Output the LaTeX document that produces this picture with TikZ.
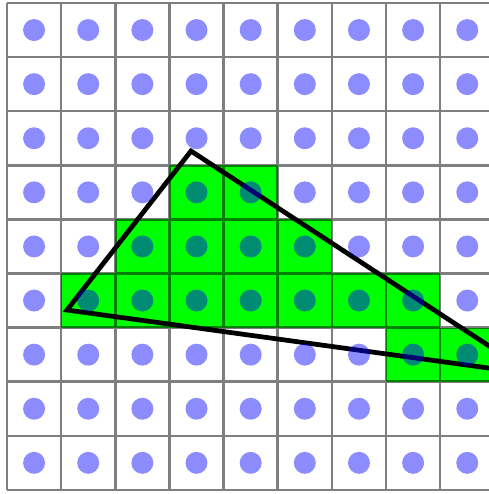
\documentclass[tikz,border=0pt]{standalone}
\usepackage{tikz}
\usepackage{xcolor}
\definecolor{pixgreen}{RGB}{0,255,0}
\definecolor{sampleblue}{RGB}{0,0,255}

\begin{document}
\begin{tikzpicture}[x=1.083cm, y=-1.082cm,
  gridline/.style={draw=black, draw opacity=0.5, line width=0.05cm},
  covered/.style={fill=pixgreen},
  sample/.style={fill=sampleblue, fill opacity=0.45},
  edge/.style={draw=black, line width=0.095cm, line join=miter}]
\useasboundingbox (-0.1293,-0.0555) rectangle (8.901,9.076);
\clip (-0.1293,-0.0555) rectangle (8.901,9.076);
\fill[white] (-0.1293,-0.0555) rectangle (8.901,9.076);
% covered pixels
\foreach \i/\j in {3/3,4/3,2/4,3/4,4/4,5/4,1/5,2/5,3/5,4/5,5/5,6/5,7/5,7/6,8/6}
  \fill[covered] (\i,\j) rectangle ++(1,1);
\draw[gridline] \foreach \k in {0,...,9} {(\k,0) -- (\k,9) (0,\k) -- (9,\k)};
% triangle
\coordinate (apexT) at (3.398,2.736);
\coordinate (apexL) at (1.108,5.675);
\coordinate (apexR) at (9.695,6.858);
\draw[edge] (apexT) -- (apexL) -- (apexR) -- cycle;
% sample points
\foreach \i in {0,...,8}
  \foreach \j in {0,...,8}
    \fill[sample] (\i+0.5,\j+0.5) circle[radius=0.203];
\end{tikzpicture}
\end{document}
